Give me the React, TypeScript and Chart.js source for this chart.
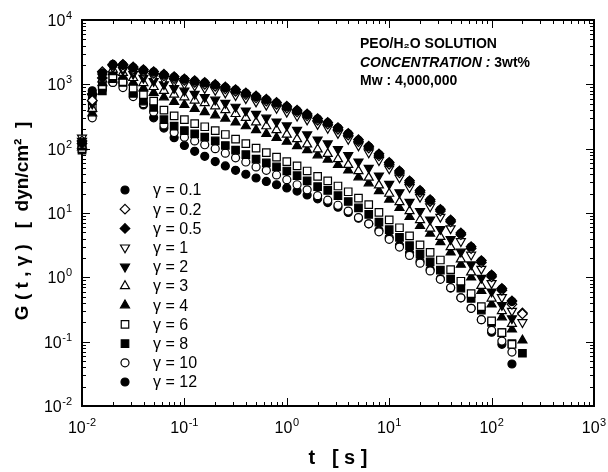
import React, { useEffect, useRef } from 'react';
import { Chart, registerables } from 'chart.js';

Chart.register(...registerables);

// time points [s]
const T = [0.01, 0.0126, 0.0158, 0.02, 0.0251, 0.0316, 0.0398, 0.0501, 0.0631, 0.0794, 0.1, 0.126, 0.158, 0.2, 0.251, 0.316, 0.398, 0.501, 0.631, 0.794, 1, 1.26, 1.58, 2, 2.51, 3.16, 3.98, 5.01, 6.31, 7.94, 10, 12.6, 15.8, 20, 25.1, 31.6, 39.8, 50.1, 63.1, 79.4, 100, 126, 158, 200];

// G(t, gamma) [dyn/cm2]
const G_01 = [126, 794, 1510, 2040, 2000, 1820, 1660, 1550, 1410, 1290, 1200, 1120, 1050, 977, 891, 813, 724, 646, 575, 513, 447, 389, 339, 288, 251, 209, 170, 135, 107, 81, 60, 44, 31, 22, 15.8, 11.2, 7.6, 4.8, 2.95, 1.78, 1.07, 0.66, 0.42];
const G_02 = [132, 562, 1580, 2000, 2000, 1740, 1590, 1480, 1350, 1230, 1150, 1070, 1000, 933, 851, 776, 692, 617, 549, 490, 427, 372, 324, 275, 240, 200, 162, 129, 102, 77, 57, 42, 29.6, 21, 15.1, 10.7, 7.3, 4.6, 2.8, 1.7, 1.02, 0.63, 0.38, 0.27];
const G_05 = [120, 708, 1260, 2000, 2040, 1860, 1690, 1580, 1440, 1320, 1220, 1140, 1070, 997, 909, 829, 738, 659, 587, 523, 456, 397, 346, 294, 256, 213, 173, 138, 109, 83, 61, 45, 31.6, 22.4, 16.1, 11.4, 7.8, 4.9, 3.0, 1.82, 1.09, 0.67, 0.43, 0.28];
const G_1 = [148, 631, 1410, 1860, 1780, 1620, 1450, 1320, 1200, 1100, 1020, 955, 871, 813, 741, 676, 603, 537, 479, 427, 372, 324, 282, 240, 209, 174, 141, 112, 87, 66, 49, 35.5, 25.1, 17.8, 12.6, 8.7, 5.75, 3.63, 2.24, 1.35, 0.81, 0.49, 0.3, 0.2];
const G_2 = [132, 501, 1320, 1820, 1660, 1450, 1260, 1120, 1000, 871, 794, 708, 631, 575, 513, 447, 389, 347, 302, 263, 229, 195, 166, 138, 120, 98, 79, 63, 50, 38, 28.2, 20.9, 14.8, 10.7, 7.9, 5.6, 3.9, 2.5, 1.58, 0.98, 0.6, 0.37, 0.23];
const G_3 = [112, 417, 1200, 1700, 1510, 1260, 1050, 912, 794, 692, 631, 562, 513, 457, 398, 347, 302, 257, 224, 195, 166, 141, 117, 98, 83, 69, 56, 45, 35.5, 26.9, 20, 14.8, 10.7, 7.8, 5.75, 4.27, 2.95, 1.91, 1.2, 0.74, 0.47, 0.3, 0.19];
const G_4 = [105, 355, 1050, 1550, 1320, 1070, 871, 741, 631, 537, 479, 417, 372, 331, 295, 257, 224, 195, 170, 148, 129, 110, 95, 79, 68, 56, 46, 36, 29, 22, 16.2, 12, 8.7, 6.3, 4.8, 3.55, 2.45, 1.58, 1.0, 0.62, 0.38, 0.24, 0.155, 0.105];
const G_6 = [100, 427, 955, 1350, 1100, 871, 692, 550, 398, 324, 282, 245, 219, 191, 166, 141, 120, 102, 87, 74, 63, 54, 45, 37, 31.6, 26.3, 21.4, 17, 13.5, 10.2, 7.8, 5.9, 4.4, 3.2, 2.45, 1.86, 1.32, 0.87, 0.56, 0.35, 0.21, 0.138, 0.091];
const G_8 = [95, 562, 794, 1230, 1070, 724, 550, 437, 282, 224, 191, 170, 151, 132, 112, 95, 81, 69, 60, 52, 45, 38, 31.6, 25.7, 22.4, 18.6, 15.1, 12, 9.5, 7.2, 5.5, 4.17, 3.1, 2.29, 1.74, 1.29, 0.95, 0.68, 0.47, 0.31, 0.2, 0.138, 0.093, 0.066];
const G_10 = [126, 302, 891, 1070, 891, 646, 501, 372, 234, 178, 151, 132, 115, 100, 85, 72, 62, 52, 46, 39, 33, 27.5, 22.9, 18.6, 15.8, 13.2, 10.7, 8.5, 6.8, 5.1, 3.9, 2.95, 2.19, 1.66, 1.26, 0.93, 0.69, 0.48, 0.33, 0.22, 0.15, 0.102, 0.069];
const G_12 = [112, 708, 832, 1070, 1070, 708, 479, 302, 209, 148, 112, 91, 76, 63, 54, 46, 40, 35, 31, 27.5, 24.5, 21.9, 19.1, 16.6, 14.5, 12.3, 10.2, 8.3, 6.8, 5.4, 4.17, 3.16, 2.4, 1.78, 1.32, 0.95, 0.68, 0.48, 0.33, 0.22, 0.14, 0.091, 0.045];

const GAMMA_LABELS = ['γ = 0.1', 'γ = 0.2', 'γ = 0.5', 'γ = 1', 'γ = 2', 'γ = 3', 'γ = 4', 'γ = 6', 'γ = 8', 'γ = 10', 'γ = 12'];
const SERIES = [G_01, G_02, G_05, G_1, G_2, G_3, G_4, G_6, G_8, G_10, G_12];

const X_TICKS = [0.01, 0.1, 1, 10, 100, 1000];
const Y_TICKS = [0.01, 0.1, 1, 10, 100, 1000, 10000];

const ANNOTATION = ['PEO/H₂O SOLUTION', 'CONCENTRATION : ', '3wt%', 'Mw : 4,000,000'];
const X_TITLE = 't   [ s ]';
const Y_TITLE = 'G ( t , γ )   [  dyn/cm²  ]   ';

// marker shapes: [pointStyle, rotation, radius, filled]
const MARKERS: [string, number, number, boolean][] = [
  ['circle', 0, 4, true],
  ['rectRot', 0, 4.8, false],
  ['rectRot', 0, 4.8, true],
  ['triangle', 180, 5.2, false],
  ['triangle', 180, 5.2, true],
  ['triangle', 0, 5.2, false],
  ['triangle', 0, 5.2, true],
  ['rect', 0, 5.3, false],
  ['rect', 0, 5.3, true],
  ['circle', 0, 4, false],
  ['circle', 0, 4, true],
];

const FONT = '"Liberation Sans", Arial, Helvetica, sans-serif';

function drawPow(ctx: CanvasRenderingContext2D, v: number, x: number, y: number, align: 'center' | 'right') {
  const e = String(Math.round(Math.log10(v)));
  ctx.font = `16px ${FONT}`;
  const wb = ctx.measureText('10').width;
  ctx.font = `11px ${FONT}`;
  const we = ctx.measureText(e).width;
  const total = wb + we + 0.5;
  const x0 = align === 'center' ? x - total / 2 : x - total;
  ctx.textAlign = 'left';
  ctx.textBaseline = 'alphabetic';
  ctx.font = `16px ${FONT}`;
  ctx.fillText('10', x0, y + 6);
  ctx.font = `11px ${FONT}`;
  ctx.fillText(e, x0 + wb + 0.5, y - 1);
}

function drawSymbol(ctx: CanvasRenderingContext2D, style: string, rotation: number, r: number, x: number, y: number, filled: boolean) {
  ctx.beginPath();
  if (style === 'circle') {
    ctx.arc(x, y, r, 0, Math.PI * 2);
  } else if (style === 'rectRot') {
    ctx.moveTo(x, y - r); ctx.lineTo(x + r, y); ctx.lineTo(x, y + r); ctx.lineTo(x - r, y);
  } else if (style === 'rect') {
    const s = r * Math.SQRT1_2;
    ctx.rect(x - s, y - s, 2 * s, 2 * s);
  } else if (style === 'triangle') {
    let rad = (rotation * Math.PI) / 180;
    ctx.moveTo(x + Math.sin(rad) * r, y - Math.cos(rad) * r);
    rad += (2 * Math.PI) / 3;
    ctx.lineTo(x + Math.sin(rad) * r, y - Math.cos(rad) * r);
    rad += (2 * Math.PI) / 3;
    ctx.lineTo(x + Math.sin(rad) * r, y - Math.cos(rad) * r);
  }
  ctx.closePath();
  ctx.fillStyle = filled ? '#000' : '#fff';
  ctx.fill();
  ctx.lineWidth = 1.2;
  ctx.strokeStyle = '#000';
  ctx.stroke();
}

const framePlugin = {
  id: 'frameTicks',
  beforeDatasetsDraw(chart: any) {
    const { ctx, chartArea: a, scales } = chart;
    ctx.save();
    ctx.strokeStyle = '#000';
    ctx.lineWidth = 1;
    const line = (x1: number, y1: number, x2: number, y2: number) => {
      ctx.beginPath(); ctx.moveTo(x1, y1); ctx.lineTo(x2, y2); ctx.stroke();
    };
    for (let e = -2; e <= 2; e++) {
      for (let m = 1; m <= 9; m++) {
        const v = m * Math.pow(10, e);
        const px = Math.round(scales.x.getPixelForValue(v)) + 0.5;
        const len = m === 1 ? 8 : 4;
        line(px, a.bottom, px, a.bottom - len);
        line(px, a.top, px, a.top + len);
      }
    }
    for (let e = -2; e <= 3; e++) {
      for (let m = 1; m <= 9; m++) {
        const v = m * Math.pow(10, e);
        const py = Math.round(scales.y.getPixelForValue(v)) + 0.5;
        const len = m === 1 ? 8 : 4;
        line(a.left, py, a.left + len, py);
        line(a.right, py, a.right - len, py);
      }
    }
    ctx.lineWidth = 2;
    ctx.strokeRect(a.left, a.top, a.right - a.left, a.bottom - a.top);
    ctx.restore();
  },
  afterDraw(chart: any) {
    const { ctx, chartArea: a, scales } = chart;
    ctx.save();
    // decade tick labels with superscript exponents, placed by the scales
    ctx.fillStyle = '#000';
    X_TICKS.forEach((v) => drawPow(ctx, v, scales.x.getPixelForValue(v), a.bottom + 21, 'center'));
    Y_TICKS.forEach((v) => drawPow(ctx, v, a.left - 10, scales.y.getPixelForValue(v), 'right'));

    // legend inside plot
    chart.data.datasets.forEach((ds: any, i: number) => {
      const y = 190 + 19.2 * i;
      const mk = MARKERS[i];
      drawSymbol(ctx, mk[0], mk[1], mk[2], 125, y, mk[3]);
      ctx.fillStyle = '#000';
      ctx.font = `16px ${FONT}`;
      ctx.textAlign = 'left';
      ctx.textBaseline = 'middle';
      ctx.fillText(ds.label, 153, y + 1);
    });

    // annotation
    ctx.fillStyle = '#000';
    ctx.textBaseline = 'middle';
    ctx.textAlign = 'left';
    ctx.font = `bold 14px ${FONT}`;
    ctx.fillText(ANNOTATION[0], 360, 44);
    ctx.font = `italic bold 14px ${FONT}`;
    ctx.fillText(ANNOTATION[1], 360, 63);
    const w = ctx.measureText(ANNOTATION[1]).width;
    ctx.font = `bold 14px ${FONT}`;
    ctx.fillText(ANNOTATION[2], 360 + w, 63);
    ctx.fillText(ANNOTATION[3], 360, 81);
    ctx.restore();
  },
};

export default function App() {
  const ref = useRef<HTMLCanvasElement | null>(null);
  useEffect(() => {
    if (!ref.current) return;
    Chart.defaults.font.family = FONT;
    Chart.defaults.color = '#000';
    const datasets = SERIES.map((vals, i) => {
      const mk = MARKERS[i];
      return {
        label: GAMMA_LABELS[i],
        data: vals.map((v, k) => ({ x: T[k], y: v })),
        pointStyle: mk[0],
        rotation: mk[1],
        pointRadius: mk[2],
        pointHoverRadius: mk[2],
        backgroundColor: mk[3] ? '#000' : '#fff',
        borderColor: '#000',
        borderWidth: 1.2,
        showLine: false,
        clip: false,
      };
    });
    const chart = new Chart(ref.current, {
      type: 'scatter',
      data: { datasets },
      options: {
        animation: false,
        responsive: false,
        devicePixelRatio: 1,
        layout: { padding: { top: 20, right: 14, left: 0, bottom: 0 } },
        plugins: { legend: { display: false }, tooltip: { enabled: false } },
        scales: {
          x: {
            type: 'logarithmic',
            min: 0.01,
            max: 1000,
            afterFit: (s: any) => { s.height = 66; },
            grid: { display: false, drawTicks: false },
            border: { display: false },
            ticks: { display: false },
            title: { display: true, text: X_TITLE, font: { size: 20, weight: 'bold' }, color: '#000', padding: { top: 0, bottom: 2 } },
          },
          y: {
            type: 'logarithmic',
            min: 0.01,
            max: 10000,
            afterFit: (s: any) => { s.width = 82; },
            grid: { display: false, drawTicks: false },
            border: { display: false },
            ticks: { display: false },
            title: { display: true, text: Y_TITLE, font: { size: 19, weight: 'bold' }, color: '#000', padding: { top: 11, bottom: 0 } },
          },
        },
      },
      plugins: [framePlugin],
    } as any);
    return () => chart.destroy();
  }, []);
  return (
    <div style={{ position: 'absolute', left: 0, top: 0, width: 608, height: 472, background: '#fff' }}>
      <canvas ref={ref} width={608} height={472} />
    </div>
  );
}
